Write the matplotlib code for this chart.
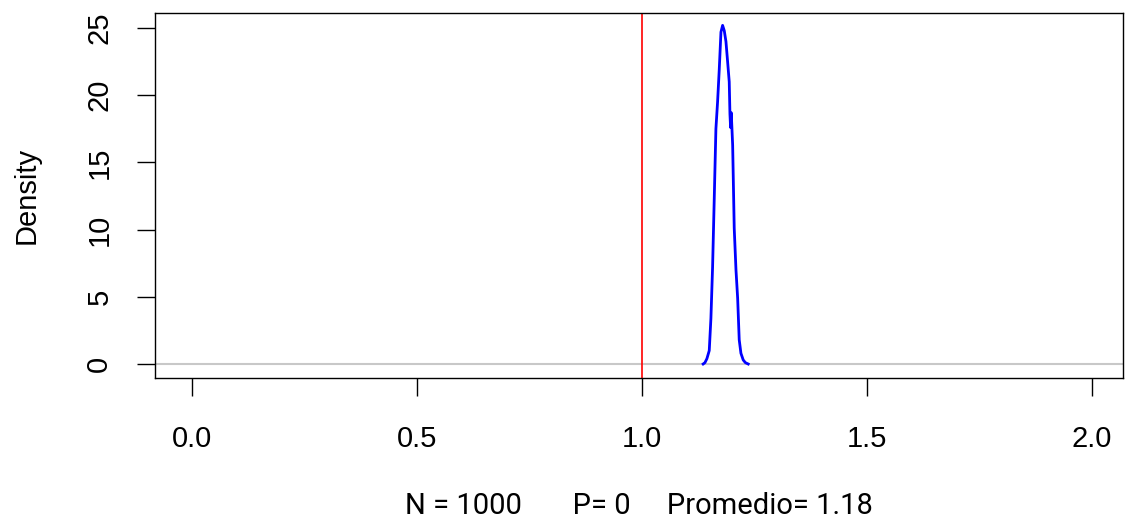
import matplotlib.pyplot as plt

# densidad estimada
x_dens = [1.136, 1.140, 1.1444, 1.1496, 1.1533, 1.157, 1.1607, 1.1644, 1.1681,
          1.1718, 1.1756, 1.1793, 1.1830, 1.1867, 1.1904, 1.1940, 1.1956, 1.1970,
          1.1985, 1.2016, 1.2051, 1.2090, 1.2127, 1.2162, 1.2200, 1.2251, 1.2300, 1.2362]
y_dens = [0.0, 0.1, 0.4, 1.0, 3.4, 7.2, 12.3, 17.5, 19.5,
          21.9, 24.7, 25.2, 24.8, 24.0, 22.5, 21.0, 18.6, 17.6,
          18.7, 16.3, 10.1, 7.0, 4.9, 1.8, 0.8, 0.3, 0.1, 0.0]
x_ticks = [0.0, 0.5, 1.0, 1.5, 2.0]
y_ticks = [0, 5, 10, 15, 20, 25]
ref_x = 1.0
texto = "N = 1000       P= 0     Promedio= 1.18"

plt.rcParams['font.family'] = ['Liberation Sans', 'DejaVu Sans']

fig = plt.figure(figsize=(11.28, 5.31), dpi=100)
ax = fig.add_axes([155 / 1128, 1 - 378 / 531, (1123 - 155) / 1128, (378 - 13) / 531])

ax.axhline(0, color='#c8c8c8', linewidth=1.5, zorder=1)
ax.axvline(ref_x, color='red', linewidth=1.2, zorder=2)
ax.plot(x_dens, y_dens, color='blue', linewidth=2, zorder=3)

ax.set_xlim(-0.082, 2.069)
ax.set_ylim(-1.04, 26.12)
ax.set_xticks(x_ticks)
ax.set_xticklabels(["%.1f" % v for v in x_ticks])
ax.set_yticks(y_ticks)
ax.set_yticklabels([str(v) for v in y_ticks], rotation=90, va='center')
ax.tick_params(direction='out', length=13, width=1, labelsize=21, pad=21, colors='black')
ax.tick_params(axis='y', pad=17)
for s in ax.spines.values():
    s.set_linewidth(1)

ax.set_ylabel("Density", fontsize=21, labelpad=32)
ax.set_xlabel(texto, fontsize=21, family=['Roboto', 'DejaVu Sans'], labelpad=28)

fig.savefig("out.png", dpi=100)
